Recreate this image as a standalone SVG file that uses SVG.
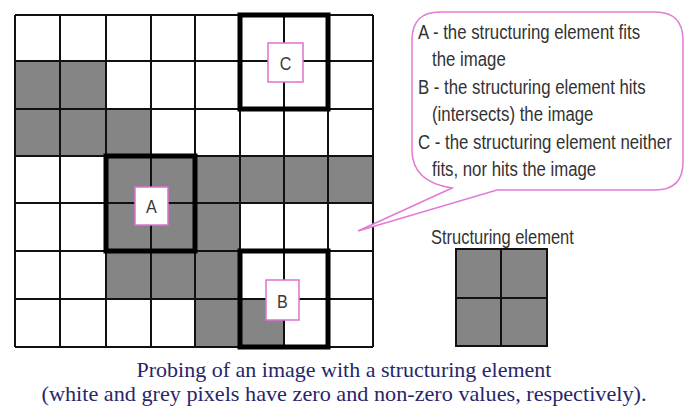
<svg xmlns="http://www.w3.org/2000/svg" width="685" height="412" viewBox="0 0 685 412">
<style>
.g{fill:#858585}
.thin{fill:none;stroke:#111;stroke-width:2}
.thick{fill:none;stroke:#000;stroke-width:5}
.lbl{fill:#fff;stroke:#e070d0;stroke-width:1.5}
.lt{font-family:"Liberation Sans",Arial,sans-serif;font-size:19px;fill:#3a3a3a;text-anchor:middle}
.ct{font-family:"Liberation Sans",Arial,sans-serif;font-size:21px;fill:#333}
.cap{font-family:"Liberation Serif","Times New Roman",serif;font-size:21px;fill:#28266a;text-anchor:middle}
</style>
<rect width="685" height="412" fill="#fff"/>
<g id="image-grid">
<rect class="g" x="15" y="61" width="91" height="48"/>
<rect class="g" x="15" y="109" width="136" height="47"/>
<rect class="g" x="106" y="156" width="267" height="47"/>
<rect class="g" x="106" y="203" width="134" height="48"/>
<rect class="g" x="106" y="251" width="134" height="48"/>
<rect class="g" x="195" y="299" width="89" height="48"/>
<path class="thin" d="M15 15V347M60 15V347M106 15V347M151 15V347M195 15V347M240 15V347M284 15V347M328 15V347M373 15V347M15 15H373M15 61H373M15 109H373M15 156H373M15 203H373M15 251H373M15 299H373M15 347H373"/>
</g>
<g id="probe-A">
<rect class="thick" x="106" y="156" width="89" height="95"/>
<rect class="lbl" x="135" y="187" width="33" height="38"/>
<text class="lt" x="151.5" y="213" transform="translate(151.5,0) scale(0.85,1) translate(-151.5,0)">A</text>
</g>
<g id="probe-B">
<rect class="thick" x="240" y="251" width="88" height="96"/>
<rect class="lbl" x="266" y="280" width="33" height="40"/>
<text class="lt" x="282.5" y="308" transform="translate(282.5,0) scale(0.85,1) translate(-282.5,0)">B</text>
</g>
<g id="probe-C">
<rect class="thick" x="240" y="15" width="88" height="94"/>
<rect class="lbl" x="268" y="43" width="35" height="39"/>
<text class="lt" x="285.5" y="70" transform="translate(285.5,0) scale(0.85,1) translate(-285.5,0)">C</text>
</g>
<g id="callout">
<path d="M440 12H655Q683 12 683 40V162Q683 190 655 190H497L358 231L452 188Q412 182 412 150V40Q412 12 440 12Z" fill="#fff" stroke="#e27ad6" stroke-width="1.5"/>
<g transform="translate(418,0) scale(0.8,1)">
<text class="ct" x="0" y="39">A - the structuring element fits</text>
<text class="ct" x="17.5" y="66">the image</text>
<text class="ct" x="0" y="94">B - the structuring element hits</text>
<text class="ct" x="17.5" y="121">(intersects) the image</text>
<text class="ct" x="0" y="149">C - the structuring element neither</text>
<text class="ct" x="17.5" y="176">fits, nor hits the image</text>
</g>
</g>
<g id="structuring-element">
<text class="ct" x="0" y="244" transform="translate(431,0) scale(0.785,1)">Structuring element</text>
<rect class="g" x="456" y="249" width="91" height="97"/>
<path class="thin" d="M456 249H547V346H456ZM501 249V346M456 298H547"/>
</g>
<g id="caption">
<text class="cap" x="344" y="377" textLength="415" lengthAdjust="spacingAndGlyphs">Probing of an image with a structuring element</text>
<text class="cap" x="344" y="401" textLength="605" lengthAdjust="spacingAndGlyphs">(white and grey pixels have zero and non-zero values, respectively).</text>
</g>
</svg>
